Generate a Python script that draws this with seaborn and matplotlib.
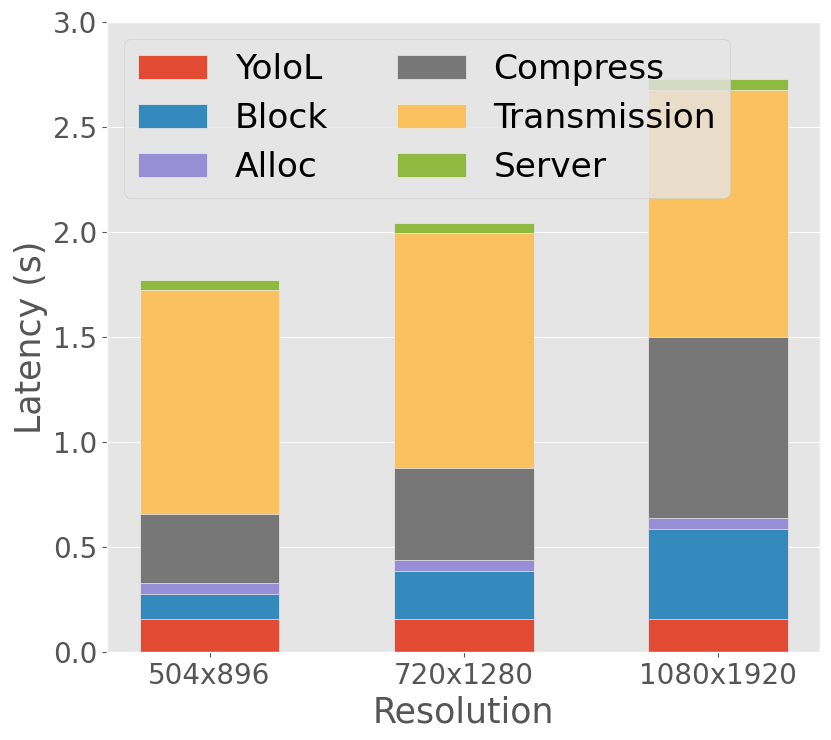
import matplotlib
matplotlib.use('Agg')
import matplotlib.pyplot as plt
import numpy as np
import seaborn as sns
from matplotlib.patches import Patch

resolutions = ['504x896', '720x1280', '1080x1920']
stages = ['YoloL', 'Block', 'Alloc', 'Compress', 'Transmission', 'Server']

yolol = [0.156, 0.156, 0.156]
block = [0.12, 0.23, 0.43]
alloc = [0.053, 0.052, 0.052]
compress = [0.33, 0.44, 0.86]
transmission = [1.065, 1.118, 1.18]
server = [0.05, 0.048, 0.05]

colors = ['#E24A33', '#348ABD', '#988ED5', '#777777', '#FBC15E', '#8EBA42']

plt.style.use('ggplot')
fig, ax = plt.subplots(figsize=(8.31, 7.40), dpi=100)
fig.subplots_adjust(left=0.129, right=0.987, bottom=0.119, top=0.970)

series = [yolol, block, alloc, compress, transmission, server]
tops = np.cumsum(np.array(series), axis=0)

# draw tallest cumulative bar first, then smaller ones over it
for i in range(len(stages) - 1, -1, -1):
    sns.barplot(x=resolutions, y=tops[i], color=colors[i], width=0.55,
                edgecolor='#EEEEEE', linewidth=0.5, saturation=1, ax=ax)

ax.set_xlim(-0.4025, 2.4025)
ax.set_ylim(0, 3.0)
ax.set_yticks(np.arange(0, 3.01, 0.5))
ax.set_xlabel('Resolution', fontsize=25)
ax.set_ylabel('Latency (s)', fontsize=25)
ax.tick_params(axis='both', labelsize=20)

handles = [Patch(facecolor=c, edgecolor='#EEEEEE', linewidth=0.5) for c in colors]
ax.legend(handles, stages, ncol=2, loc='upper left', fontsize=24.8,
          labelspacing=0.46)

fig.savefig('out.png', dpi=100)
